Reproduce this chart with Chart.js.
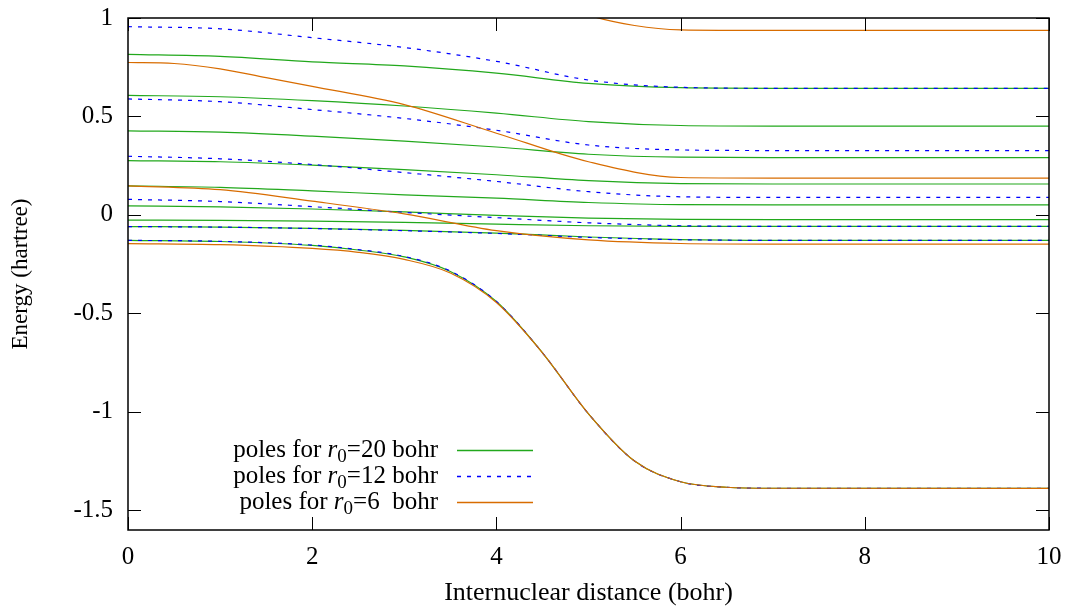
<!DOCTYPE html>
<html>
<head>
<meta charset="utf-8">
<script src="https://cdn.jsdelivr.net/npm/chart.js@4/dist/chart.umd.min.js"></script>
<style>
  html, body { margin: 0; padding: 0; background: #fff; }
  #wrap { width: 1069px; height: 609px; }
</style>
</head>
<body>
<div id="wrap"><canvas id="chart" width="1069" height="609"></canvas></div>
<script>
// --- Data ---
const xTicks = [0, 2, 4, 6, 8, 10];
const yTicks = [-1.5, -1, -0.5, 0, 0.5, 1];

const xCoarse = [0, 1, 2, 3, 4, 5, 6, 7, 10];
const xFine = [0, 1, 2, 2.5, 3, 3.5, 4, 4.5, 5, 5.5, 6, 6.5, 7, 10];
const xTop = [4.5, 5, 5.5, 6, 7, 10];
const xHigh = [0, 0.5, 1, 1.5, 2, 3, 4, 5, 6, 7, 10];

// r0 = 20 bohr
const green = [
    [0.815, 0.805, 0.777, 0.757, 0.720, 0.668, 0.646, 0.643, 0.643],
    [0.607, 0.600, 0.580, 0.553, 0.517, 0.474, 0.454, 0.451, 0.451],
    [0.427, 0.420, 0.400, 0.375, 0.345, 0.308, 0.293, 0.291, 0.291],
    [0.276, 0.270, 0.253, 0.230, 0.204, 0.174, 0.159, 0.157, 0.157],
    [0.148, 0.140, 0.122, 0.102, 0.085, 0.063, 0.052, 0.051, 0.051],
    [0.046, 0.041, 0.030, 0.015, -0.002, -0.016, -0.023, -0.024, -0.024],
    [-0.026, -0.028, -0.032, -0.038, -0.047, -0.055, -0.058, -0.058, -0.058],
    [-0.059, -0.062, -0.068, -0.078, -0.092, -0.112, -0.125, -0.129, -0.129]
];
const greenDrop = [-0.129, -0.135, -0.155, -0.178, -0.213, -0.287, -0.440, -0.700, -1.010, -1.250, -1.355, -1.383, -1.388, -1.389];

// r0 = 12 bohr
const blue = [
    [0.956, 0.945, 0.900, 0.850, 0.780, 0.685, 0.648, 0.643, 0.643],
    [0.589, 0.575, 0.535, 0.490, 0.430, 0.355, 0.330, 0.327, 0.327],
    [0.298, 0.285, 0.256, 0.215, 0.170, 0.118, 0.092, 0.089, 0.089],
    [0.079, 0.068, 0.042, 0.013, -0.014, -0.040, -0.055, -0.058, -0.058],
    [-0.059, -0.062, -0.069, -0.080, -0.094, -0.114, -0.126, -0.129, -0.129]
];
const blueDrop = [-0.129, -0.134, -0.153, -0.176, -0.211, -0.285, -0.440, -0.700, -1.010, -1.250, -1.355, -1.383, -1.388, -1.389];

// r0 = 6 bohr
const orangeHigh = [0.774, 0.769, 0.742, 0.697, 0.653, 0.560, 0.415, 0.270, 0.190, 0.187, 0.187];
const orangeMid = [0.148, 0.128, 0.070, 0.005, -0.080, -0.127, -0.145, -0.148, -0.148];
const orangeDrop = [-0.146, -0.151, -0.170, -0.190, -0.226, -0.295, -0.445, -0.700, -1.010, -1.250, -1.355, -1.383, -1.388, -1.389];
const orangeTop = [1.12, 1.015, 0.962, 0.940, 0.937, 0.937];

const seriesNames = ["20", "12", "6 "];
const seriesColors = ["#22a81c", "#0000ff", "#d86c00"];
const seriesDash = [[], [4, 6], []];

const FONT = "'Liberation Serif', 'DejaVu Serif', serif";
const FS = 25;

function pts(xs, ys) {
    return xs.map((x, i) => ({ x: x, y: ys[i] }));
}

function line(xs, ys, k) {
    return {
        data: pts(xs, ys),
        borderColor: seriesColors[k],
        borderDash: seriesDash[k],
        borderWidth: 1.2,
        pointRadius: 0,
        fill: false,
        cubicInterpolationMode: 'monotone'
    };
}

// orange first so it ends up drawn on top, green last (drawn first)
const datasets = [];
datasets.push(line(xHigh, orangeHigh, 2));
datasets.push(line(xCoarse, orangeMid, 2));
datasets.push(line(xFine, orangeDrop, 2));
datasets.push(line(xTop, orangeTop, 2));
blue.forEach(v => datasets.push(line(xCoarse, v, 1)));
datasets.push(line(xFine, blueDrop, 1));
green.forEach(v => datasets.push(line(xCoarse, v, 0)));
datasets.push(line(xFine, greenDrop, 0));

// --- Frame, inward ticks and legend (gnuplot look) ---
const framePlugin = {
    id: 'frame',
    afterDatasetsDraw(chart) {
        const { ctx, chartArea: a, scales } = chart;
        const len = 13;
        ctx.save();
        ctx.strokeStyle = '#000';
        ctx.lineWidth = 1;
        ctx.beginPath();
        xTicks.forEach(v => {
            const px = Math.round(scales.x.getPixelForValue(v)) + 0.5;
            ctx.moveTo(px, a.bottom); ctx.lineTo(px, a.bottom - len);
            ctx.moveTo(px, a.top); ctx.lineTo(px, a.top + len);
        });
        yTicks.forEach(v => {
            const py = Math.round(scales.y.getPixelForValue(v)) + 0.5;
            ctx.moveTo(a.left, py); ctx.lineTo(a.left + len, py);
            ctx.moveTo(a.right, py); ctx.lineTo(a.right - len, py);
        });
        ctx.stroke();
        ctx.lineWidth = 1.5;
        ctx.strokeRect(a.left, a.top, a.right - a.left, a.bottom - a.top);

        // legend
        const rowY = [450, 476, 502];
        const textRight = 438;
        ctx.textBaseline = 'middle';
        rowY.forEach((y, k) => {
            const parts = [
                { t: 'poles for ', f: FS + 'px ' + FONT, dy: 0 },
                { t: 'r', f: 'italic ' + FS + 'px ' + FONT, dy: 0 },
                { t: '0', f: Math.round(FS * 0.75) + 'px ' + FONT, dy: 7 },
                { t: '=' + seriesNames[k] + ' bohr', f: FS + 'px ' + FONT, dy: 0 }
            ];
            let w = 0;
            parts.forEach(p => { ctx.font = p.f; w += ctx.measureText(p.t).width; });
            let x = textRight - w;
            ctx.fillStyle = '#000';
            ctx.textAlign = 'left';
            parts.forEach(p => {
                ctx.font = p.f;
                ctx.fillText(p.t, x, y + p.dy);
                x += ctx.measureText(p.t).width;
            });
            ctx.beginPath();
            ctx.strokeStyle = seriesColors[k];
            ctx.lineWidth = 1.5;
            ctx.setLineDash(seriesDash[k]);
            ctx.moveTo(457, y + 0.5);
            ctx.lineTo(533, y + 0.5);
            ctx.stroke();
            ctx.setLineDash([]);
        });
        ctx.restore();
    }
};

new Chart(document.getElementById('chart'), {
    type: 'line',
    data: { datasets: datasets },
    plugins: [framePlugin],
    options: {
        responsive: false,
        animation: false,
        events: [],
        layout: { autoPadding: false, padding: { left: 0, top: 18, right: 20, bottom: 0 } },
        plugins: { legend: { display: false }, tooltip: { enabled: false } },
        scales: {
            x: {
                type: 'linear',
                min: 0,
                max: 10,
                grid: { display: false, drawTicks: false },
                border: { display: false },
                afterBuildTicks: s => { s.ticks = xTicks.map(v => ({ value: v })); },
                afterFit: s => { s.height = 79; s.paddingLeft = 0; s.paddingRight = 0; },
                ticks: {
                    padding: 12,
                    color: '#000',
                    font: { family: FONT, size: FS },
                    maxRotation: 0,
                    callback: v => String(v)
                },
                title: {
                    display: true,
                    text: 'Internuclear distance (bohr)',
                    color: '#000',
                    font: { family: FONT, size: 26 },
                    padding: { top: 0, bottom: 0 }
                }
            },
            y: {
                type: 'linear',
                min: -1.6,
                max: 1,
                grid: { display: false, drawTicks: false },
                border: { display: false },
                afterBuildTicks: s => { s.ticks = yTicks.map(v => ({ value: v })); },
                // tick padding otherwise also pushes the plot top down
                afterFit: s => { s.width = 128; s.paddingTop = 0; s.paddingBottom = 0; },
                ticks: {
                    padding: 15,
                    color: '#000',
                    font: { family: FONT, size: FS },
                    callback: v => String(v)
                },
                title: {
                    display: true,
                    text: 'Energy (hartree)',
                    color: '#000',
                    font: { family: FONT, size: 23 },
                    padding: { top: 7, bottom: 0 }
                }
            }
        }
    }
});
</script>
</body>
</html>
